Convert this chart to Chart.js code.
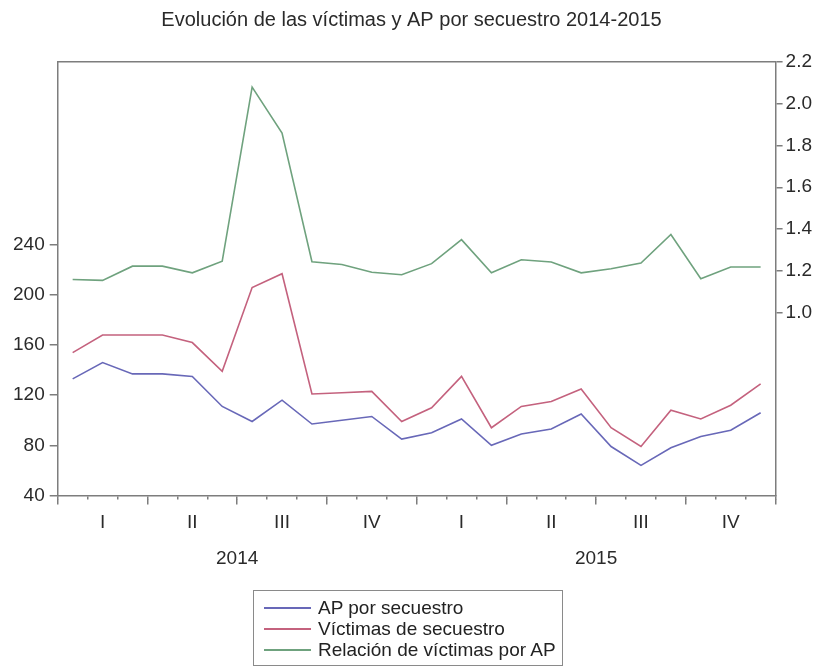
<!DOCTYPE html>
<html>
<head>
<meta charset="utf-8">
<script src="https://cdn.jsdelivr.net/npm/chart.js@4.4.1/dist/chart.umd.min.js"></script>
<style>
  html, body { margin: 0; padding: 0; background: #fff; }
  #wrap { position: relative; width: 818px; height: 669px; }
  #legend {
    position: absolute; left: 253px; top: 590px; width: 310px;
    border: 1px solid #8a8a8a; padding: 6px 0 5px 0; box-sizing: border-box;
    font-family: "Liberation Sans", Arial, sans-serif; font-size: 19px; color: #222;
  }
  #legend .row { height: 21px; line-height: 21px; display: flex; align-items: center; }
  #legend .sw { width: 47px; height: 2px; margin: 0 7px 0 10px; }
</style>
</head>
<body>
<div id="wrap">
  <canvas id="myChart" width="818" height="669"></canvas>
  <div id="legend"></div>
</div>
<script>
(function() {

 'use strict';

 var months = ['Ene','Feb','Mar','Abr','May','Jun','Jul','Ago','Sep','Oct','Nov','Dic',
               'Ene','Feb','Mar','Abr','May','Jun','Jul','Ago','Sep','Oct','Nov','Dic'];
 var quarters = ['I','II','III','IV','I','II','III','IV'];
 var years = ['2014','2015'];

 var apSecuestro = [133,146,137,137,135,111,99,116,97,100,103,85,
                    90,101,80,89,93,105,79,64,78,87,92,106];
 var victimasSecuestro = [154,168,168,168,162,139,206,217,121,122,123,99,
                          110,135,94,111,115,125,94,79,108,101,112,129];
 var relacionVictimasAP = [1.158,1.154,1.222,1.222,1.190,1.246,2.080,1.860,1.243,1.230,1.193,1.181,
                           1.234,1.349,1.190,1.253,1.242,1.190,1.210,1.237,1.374,1.162,1.218,1.218];

 var leftTicks = [40,80,120,160,200,240];
 var rightTicks = [1.0,1.2,1.4,1.6,1.8,2.0,2.2];

 var axisColor = '#7d7d7d';
 var textColor = '#2a2a2a';
 var font = { family: '"Liberation Sans", Arial, sans-serif', size: 19 };

 Chart.defaults.color = textColor;
 Chart.defaults.font = font;

 var ctx = document.getElementById('myChart').getContext('2d');

 var chart = new Chart(ctx, {
    type: 'line',
    data: {
        labels: months,
        datasets: [{
            label: 'AP por secuestro',
            data: apSecuestro,
            borderColor: '#6868b8',
            yAxisID: 'y'
        },
        {
            label: 'Víctimas de secuestro',
            data: victimasSecuestro,
            borderColor: '#c4627e',
            yAxisID: 'y'
        },
        {
            label: 'Relación de víctimas por AP',
            data: relacionVictimasAP,
            borderColor: '#6fa27e',
            yAxisID: 'y1'
        }]
    },
    options: {
        responsive: false,
        animation: false,
        elements: {
            line: { borderWidth: 1.6, tension: 0 },
            point: { radius: 0 }
        },
        layout: { padding: { left: 8, right: 3, top: 0, bottom: 93 } },
        plugins: {
            legend: { display: false },
            tooltip: { enabled: false },
            title: {
                display: true,
                text: 'Evolución de las víctimas y AP por secuestro 2014-2015',
                font: { size: 20, weight: 'normal' },
                color: textColor,
                padding: { top: 8, bottom: 22 }
            }
        },
        scales: {
            xt: {
                type: 'category',
                position: 'top',
                offset: true,
                grid: { display: false },
                ticks: { display: false },
                border: { display: true, color: axisColor, width: 1.5 }
            },
            x: {
                type: 'category',
                position: 'bottom',
                offset: true,
                grid: { offset: true, drawOnChartArea: false, drawTicks: true, tickLength: 4, color: axisColor, lineWidth: 1.5 },
                ticks: { display: false },
                border: { display: true, color: axisColor, width: 1.5 }
            },
            xq: {
                type: 'category',
                position: 'bottom',
                labels: quarters,
                offset: true,
                grid: { offset: true, drawOnChartArea: false, drawTicks: true, tickLength: 5, color: axisColor, lineWidth: 1.5 },
                ticks: { autoSkip: false, maxRotation: 0, padding: 7 },
                border: { display: false }
            },
            xy: {
                type: 'category',
                position: 'bottom',
                labels: years,
                offset: true,
                grid: { display: false, drawTicks: false },
                ticks: { autoSkip: false, maxRotation: 0, padding: 6 },
                border: { display: false }
            },
            y: {
                position: 'left',
                min: 40,
                max: 386,
                afterBuildTicks: function(axis) {
                    axis.ticks = leftTicks.map(function(v) { return { value: v }; });
                },
                grid: { drawOnChartArea: false, tickLength: 8, color: axisColor, lineWidth: 1.5 },
                ticks: { padding: 5 },
                border: { display: true, color: axisColor, width: 1.5 }
            },
            y1: {
                position: 'right',
                min: 0.124,
                max: 2.2,
                afterBuildTicks: function(axis) {
                    axis.ticks = rightTicks.map(function(v) { return { value: v }; });
                },
                grid: { drawOnChartArea: false, tickLength: 7, color: axisColor, lineWidth: 1.5 },
                ticks: {
                    padding: 3,
                    callback: function(v) { return Number(v).toFixed(1); }
                },
                border: { display: true, color: axisColor, width: 1.5 }
            }
        }
    }
 });

 // legend as a box below the plot, built from the chart datasets
 var legendEl = document.getElementById('legend');
 chart.data.datasets.forEach(function(ds) {
     var row = document.createElement('div');
     row.className = 'row';
     var sw = document.createElement('span');
     sw.className = 'sw';
     sw.style.background = ds.borderColor;
     var txt = document.createElement('span');
     txt.textContent = ds.label;
     row.appendChild(sw);
     row.appendChild(txt);
     legendEl.appendChild(row);
 });

})();
</script>
</body>
</html>
